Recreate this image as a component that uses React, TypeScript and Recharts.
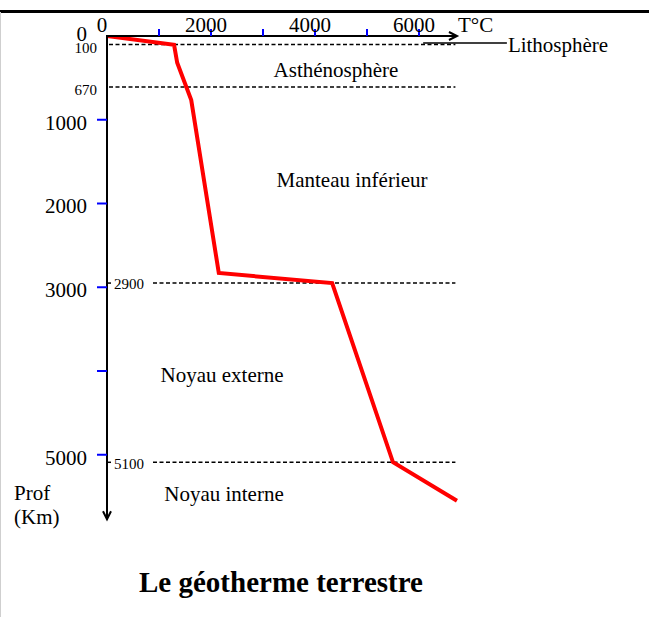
import React from 'react';
import { LineChart, Line, XAxis, YAxis, ReferenceLine, ReferenceDot } from 'recharts';

// Geotherm: temperature (°C) vs depth (km)
const temperatures = [0, 1290, 1350, 1620, 2150, 4330, 5500, 6730];
const depths = [0, 105, 320, 765, 2830, 2950, 5090, 5550];

const xTicks = [0, 1000, 2000, 3000, 4000, 5000, 6000];
const xTickLabels = ['0', '', '2000', '', '4000', '', '6000'];
const yTicks = [0, 1000, 2000, 3000, 4000, 5000];
const yTickLabels = ['0', '1000', '2000', '3000', '', '5000'];

const boundaryDepths = [100, 610, 2950, 5090];
const boundaryLabels = ['100', '670', '2900', '5100'];
const boundarySides = ['left', 'left', 'right', 'right'];
const boundaryEndTemp = 6700;

const layerNames = ['Asthénosphère', 'Manteau inférieur', 'Noyau externe', 'Noyau interne'];
const layerLabelTemps = [4404, 4712, 2212, 2250];
const layerLabelDepths = [406, 1719, 4048, 5469];

const lithoName = 'Lithosphère';
const lithoPointer = { depth: 84, fromTemp: 6080, toTemp: 7690 };

const xAxisEnd = 6730;
const yAxisEnd = 5770;
const xDomain = [0, 6800];
const yDomain = [0, 5800];

const xTitle = 'T°C';
const yTitle = ['Prof', '(Km)'];
const chartTitle = 'Le géotherme terrestre';

const data = temperatures.map((t, i) => ({ temp: t, depth: depths[i] }));

const FONT = '"Liberation Serif", "Times New Roman", serif';
const BLUE = '#0000ff';

function XTick(props: any) {
  const { x, y, payload } = props;
  const v = payload.value;
  const label = xTickLabels[xTicks.indexOf(v)];
  return (
    <g>
      {v !== 0 && <line x1={x} x2={x} y1={y - 7} y2={y} stroke={BLUE} strokeWidth={2} />}
      {label && (
        <text x={x - 5} y={y - 11} dy="0.35em" textAnchor="middle" fontFamily={FONT} fontSize={21} fill="#000">
          {label}
        </text>
      )}
    </g>
  );
}

function YTick(props: any) {
  const { x, y, payload } = props;
  const v = payload.value;
  const label = yTickLabels[yTicks.indexOf(v)];
  return (
    <g>
      {v !== 0 && <line x1={x - 10} x2={x} y1={y} y2={y} stroke={BLUE} strokeWidth={2} />}
      {label && (
        <text x={x - 20} y={v === 0 ? y - 2 : y + 2.5} dy="0.35em" textAnchor="end" fontFamily={FONT} fontSize={21} fill="#000">
          {label}
        </text>
      )}
    </g>
  );
}

const boundaryShape = (i: number) => (p: any) => {
  const { x1, y1, x2 } = p;
  const label = boundaryLabels[i];
  if (boundarySides[i] === 'left') {
    return (
      <g>
        <line x1={x1 + 2} x2={x2} y1={y1} y2={y1} stroke="#000" strokeWidth={1.5} strokeDasharray="4 2.5" />
        <text x={x1 - 10} y={y1 + 3} dy="0.35em" textAnchor="end" fontFamily={FONT} fontSize={15} fill="#000">
          {label}
        </text>
      </g>
    );
  }
  return (
    <g>
      <line x1={x1 + 1} x2={x1 + 4} y1={y1} y2={y1} stroke="#000" strokeWidth={1.5} />
      <text x={x1 + 7} y={y1 + 1} dy="0.35em" textAnchor="start" fontFamily={FONT} fontSize={15} fill="#000">
        {label}
      </text>
      <line x1={x1 + 46} x2={x2} y1={y1} y2={y1} stroke="#000" strokeWidth={1.5} strokeDasharray="4 2.5" />
    </g>
  );
};

const xArrowShape = (p: any) => {
  const { x1, y1, x2 } = p;
  return (
    <g>
      <line x1={x1 - 1} x2={x2 - 1} y1={y1} y2={y1} stroke="#000" strokeWidth={2} />
      <polyline points={`${x2 - 8},${y1 - 4} ${x2},${y1} ${x2 - 8},${y1 + 4}`} fill="none" stroke="#000" strokeWidth={2} />
    </g>
  );
};

const yArrowShape = (p: any) => {
  const { x1, y1, y2 } = p;
  return (
    <g>
      <line x1={x1} x2={x1} y1={y1 - 1} y2={y2 - 1} stroke="#000" strokeWidth={2} />
      <polyline points={`${x1 - 4},${y2 - 8} ${x1},${y2} ${x1 + 4},${y2 - 8}`} fill="none" stroke="#000" strokeWidth={2} />
    </g>
  );
};

const lithoShape = (p: any) => {
  const { x1, y1, x2 } = p;
  return (
    <g>
      <line x1={x1} x2={x2} y1={y1} y2={y1} stroke="#000" strokeWidth={1.5} />
      <text x={x2 + 1} y={y1 + 2} dy="0.35em" textAnchor="start" fontFamily={FONT} fontSize={21} fill="#000">
        {lithoName}
      </text>
    </g>
  );
};

const layerShape = (i: number) => (p: any) => (
  <text x={p.cx} y={p.cy} dy="0.35em" textAnchor="middle" fontFamily={FONT} fontSize={21} fill="#000">
    {layerNames[i]}
  </text>
);

export default function App() {
  return (
    <div style={{ position: 'absolute', left: 0, top: 0, width: 649, height: 617, background: '#fff', overflow: 'hidden' }}>
      <div style={{ position: 'absolute', left: 0, top: 10, width: 649, height: 2.5, background: '#000' }} />
      <div style={{ position: 'absolute', left: 0, top: 12, width: 1, height: 605, background: '#cfcfcf' }} />
      <div style={{ position: 'absolute', left: 0, top: 0 }}>
        <LineChart width={649} height={617} data={data} margin={{ top: 35, left: 106, right: 188.4, bottom: 95.25 }}>
          <XAxis
            type="number"
            dataKey="temp"
            domain={xDomain}
            orientation="top"
            height={1}
            ticks={xTicks}
            interval={0}
            tickLine={false}
            axisLine={false}
            tickSize={0}
            tickMargin={0}
            tick={(p: any) => <XTick {...p} />}
            allowDataOverflow
          />
          <YAxis
            type="number"
            domain={yDomain}
            reversed
            width={1}
            ticks={yTicks}
            interval={0}
            tickLine={false}
            axisLine={false}
            tickSize={0}
            tickMargin={0}
            tick={(p: any) => <YTick {...p} />}
            allowDataOverflow
          />
          {boundaryDepths.map((d, i) => (
            <ReferenceLine
              key={'b' + i}
              segment={[{ x: 0, y: d }, { x: boundaryEndTemp, y: d }]}
              ifOverflow="visible"
              shape={boundaryShape(i)}
            />
          ))}
          <ReferenceLine
            segment={[{ x: lithoPointer.fromTemp, y: lithoPointer.depth }, { x: lithoPointer.toTemp, y: lithoPointer.depth }]}
            ifOverflow="visible"
            shape={lithoShape}
          />
          {layerNames.map((n, i) => (
            <ReferenceDot
              key={'l' + i}
              x={layerLabelTemps[i]}
              y={layerLabelDepths[i]}
              r={0}
              ifOverflow="visible"
              shape={layerShape(i)}
            />
          ))}
          <Line
            type="linear"
            dataKey="depth"
            stroke="#ff0000"
            strokeWidth={4}
            dot={false}
            activeDot={false}
            isAnimationActive={false}
          />
          <ReferenceLine segment={[{ x: 0, y: 0 }, { x: xAxisEnd, y: 0 }]} ifOverflow="visible" shape={xArrowShape} />
          <ReferenceLine segment={[{ x: 0, y: 0 }, { x: 0, y: yAxisEnd }]} ifOverflow="visible" shape={yArrowShape} />
        </LineChart>
      </div>
      <svg width={649} height={617} style={{ position: 'absolute', left: 0, top: 0, pointerEvents: 'none' }}>
        <text x={458} y={25} dy="0.35em" fontFamily={FONT} fontSize={21} fill="#000">{xTitle}</text>
        <text x={14} y={493} dy="0.35em" fontFamily={FONT} fontSize={21} fill="#000">{yTitle[0]}</text>
        <text x={14} y={517} dy="0.35em" fontFamily={FONT} fontSize={21} fill="#000">{yTitle[1]}</text>
        <text x={281} y={592} textAnchor="middle" fontFamily={FONT} fontSize={29} fontWeight="bold" fill="#000">{chartTitle}</text>
      </svg>
    </div>
  );
}
